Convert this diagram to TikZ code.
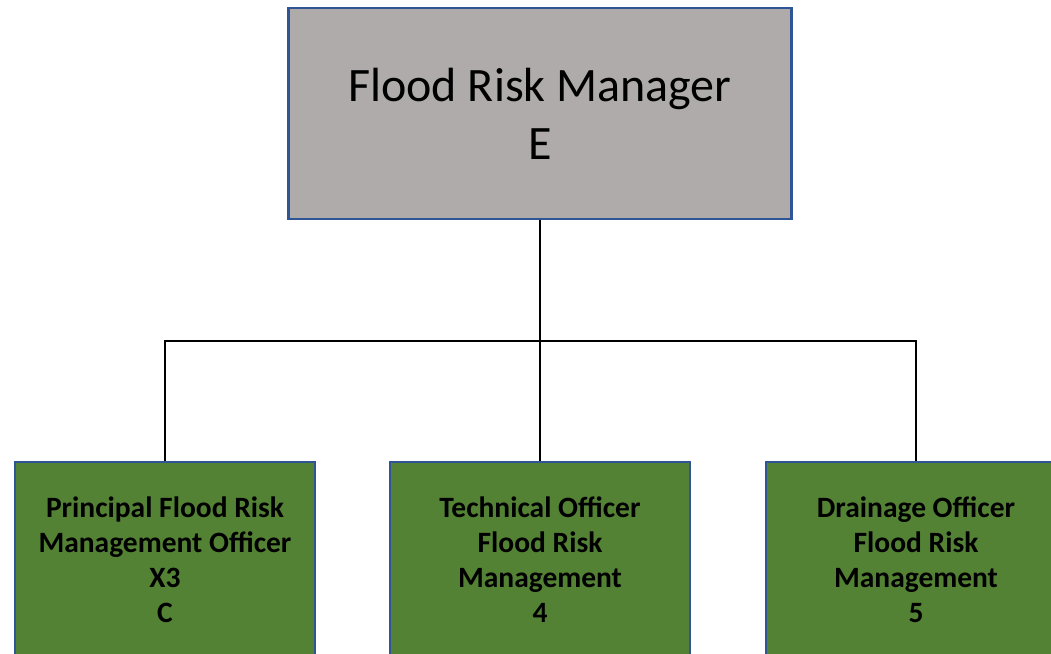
\documentclass[tikz,border=0pt]{standalone}
\usepackage{fontspec}
\setmainfont{Carlito}
\definecolor{topgray}{RGB}{175,171,171}
\definecolor{boxgreen}{RGB}{84,130,53}
\definecolor{boxblue}{RGB}{47,85,151}
\tikzset{
  topbox/.style={draw=boxblue, line width=2.2pt, fill=topgray, minimum width=503pt, minimum height=211pt, inner sep=0pt, align=center, font=\fontsize{48}{58}\selectfont},
  subbox/.style={draw=boxblue, line width=2.2pt, fill=boxgreen, minimum width=300pt, minimum height=196pt, inner sep=0pt, align=center, font=\fontsize{29.5}{35}\selectfont\bfseries},
  conn/.style={line width=2.6pt, black}
}
\begin{document}
\begin{tikzpicture}[x=1pt,y=-1pt]
\useasboundingbox (0,0) rectangle (1051,653);
\clip (0,0) rectangle (1051,653);
\fill[white] (0,0) rectangle (1051,653);
\node[topbox] (top) at (540,113.5) {Flood Risk Manager\\E};
\node[subbox] (a) at (165,560) {Principal Flood Risk\\Management Officer\\X3\\C};
\node[subbox] (b) at (540,560) {Technical Officer\\Flood Risk\\Management\\4};
\node[subbox] (c) at (916,560) {Drainage Officer\\Flood Risk\\Management\\5};
\coordinate (j) at (540,341);
\draw[conn] (top.south) -- (b.north);
\draw[conn] (a.north) |- (j) -| (c.north);
\end{tikzpicture}
\end{document}
